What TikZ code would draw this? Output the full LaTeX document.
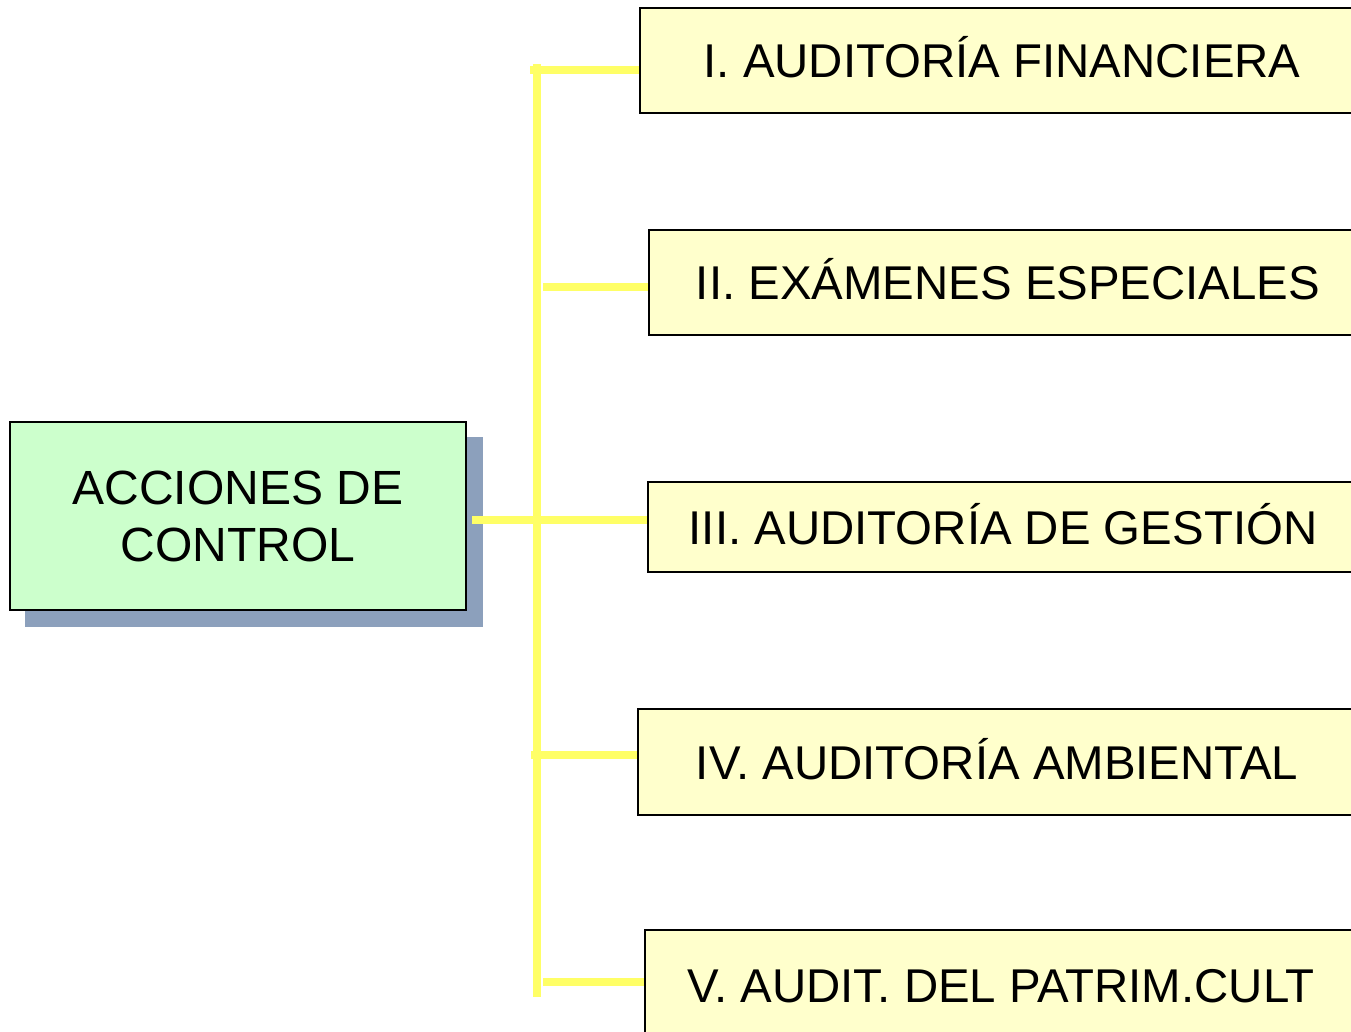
\documentclass[tikz,border=0pt]{standalone}
\usepackage{fontspec}
\setmainfont{Liberation Sans}
\definecolor{boxyellow}{HTML}{FFFFCC}
\definecolor{boxgreen}{HTML}{CCFFCC}
\definecolor{shadowblue}{HTML}{8CA0BC}
\definecolor{lineyellow}{HTML}{FFFF66}
\begin{document}
\begin{tikzpicture}[x=1pt,y=-1pt,
  ybox/.style={draw=black,line width=2pt,fill=boxyellow,inner sep=0pt,
    font=\fontsize{47.4}{52}\selectfont,text height=34pt,text depth=0pt},
  gbox/.style={draw=black,line width=2pt,fill=boxgreen,inner sep=0pt,align=center,
    minimum width=456pt,minimum height=188pt,font=\fontsize{48}{57}\selectfont},
  conn/.style={draw=lineyellow,line width=8pt}]
\useasboundingbox (0,0) rectangle (1351,1032);
\clip (0,0) rectangle (1351,1032);
% shadow of the left box
\fill[shadowblue] (25,437) rectangle (483,627);
\node[gbox] (c) at (238,516) {\raisebox{-2pt}{ACCIONES DE}\\\raisebox{-2pt}{CONTROL}};
% right boxes
\node[ybox,minimum width=724pt,minimum height=105pt] (b1) at (1002,60.5) {I. AUDITORÍA FINANCIERA};
\node[ybox,minimum width=718pt,minimum height=105pt] (b2) at (1008,282.5) {II. EXÁMENES ESPECIALES};
\node[ybox,minimum width=710pt,minimum height=90pt] (b3) at (1003,527) {III. AUDITORÍA DE GESTIÓN};
\node[ybox,minimum width=718pt,minimum height=106pt] (b4) at (997,762) {IV. AUDITORÍA AMBIENTAL};
\node[ybox,minimum width=712pt,minimum height=110pt] (b5) at (1001,985) {V. AUDIT. DEL PATRIM.CULT};
% trunk
\coordinate (ttop) at (537,64);
\coordinate (tbot) at (537,997);
\coordinate (t1) at (530,70);
\coordinate (t2) at (543,287);
\coordinate (t4) at (531,755);
\coordinate (t5) at (543,982);
\draw[conn] (ttop) -- (tbot);
\draw[conn] ([xshift=5pt]c.east |- 0,520) -- (b3.west |- 0,520);
\draw[conn] (t1) -- (t1 -| b1.west);
\draw[conn] (t2) -- (t2 -| b2.west);
\draw[conn] (t4) -- (t4 -| b4.west);
\draw[conn] (t5) -- (t5 -| b5.west);
\end{tikzpicture}
\end{document}
